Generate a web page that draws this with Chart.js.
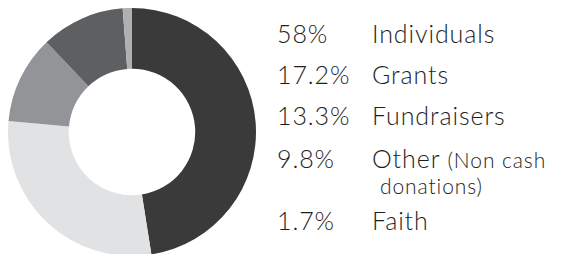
<!DOCTYPE html>
<html>
<head>
<meta charset="utf-8">
<script src="https://cdn.jsdelivr.net/npm/chart.js@4"></script>
<style>
  html, body { margin: 0; padding: 0; background: #fff; overflow: hidden; }
  body { width: 570px; height: 254px; position: relative; font-family: "Lato", sans-serif; font-weight: 300; color: #1e1e1e; }
  #donutBox { position: absolute; left: 8px; top: 8px; width: 248px; height: 248px; }
  .row { position: absolute; font-size: 25px; line-height: 25px; white-space: nowrap; letter-spacing: 0.9px; }
  .pct { left: 277px; }
  .lbl { left: 372px; }
  .small { font-size: 21px; }
</style>
</head>
<body>
<div id="donutBox"><canvas id="donut" width="248" height="248"></canvas></div>
<div id="legend"></div>
<script>
// categories in the order they are drawn (clockwise from 12 o'clock)
const categories = ["Individuals", "Grants", "Fundraisers", "Other", "Faith"];
// slice sizes as drawn in the picture (share of the ring, %)
const sliceValues = [47.5, 28.9, 11.5, 10.9, 1.2];
// percentage text printed beside each category
const pctLabels = ["58%", "17.2%", "13.3%", "9.8%", "1.7%"];
const sliceColors = ["#3a3a3a", "#e1e2e3", "#939497", "#5e5f61", "#afb0b3"];

new Chart("donut", {
    type: "doughnut",
    data: {
        labels: categories,
        datasets: [
            {
                data: sliceValues,
                backgroundColor: sliceColors,
                borderWidth: 0
            }
        ]
    },
    options: {
        responsive: false,
        animation: false,
        cutout: "51%",
        layout: { padding: 0 },
        plugins: {
            legend: { display: false },
            tooltip: { enabled: false }
        }
    }
});

// text list on the right, baselines
const baselines = [43, 84, 125, 168, 230];
const legend = document.getElementById("legend");
const ascent = 22.2; // baseline offset for 25px text with 25px line-height

categories.forEach((cat, i) => {
    const top = baselines[i] - ascent;
    const p = document.createElement("div");
    p.className = "row pct";
    p.style.top = top + "px";
    p.textContent = pctLabels[i];
    legend.appendChild(p);

    const l = document.createElement("div");
    l.className = "row lbl";
    l.style.top = top + "px";
    if (cat === "Other") {
        l.innerHTML = 'Other <span class="small">(Non cash</span>';
    } else {
        l.textContent = cat;
    }
    legend.appendChild(l);
});

// second line of the "Other" label
const extra = document.createElement("div");
extra.className = "row small";
extra.style.left = "380px";
extra.style.top = (192 - 18.6) + "px";
extra.textContent = "donations)";
legend.appendChild(extra);
</script>
</body>
</html>
